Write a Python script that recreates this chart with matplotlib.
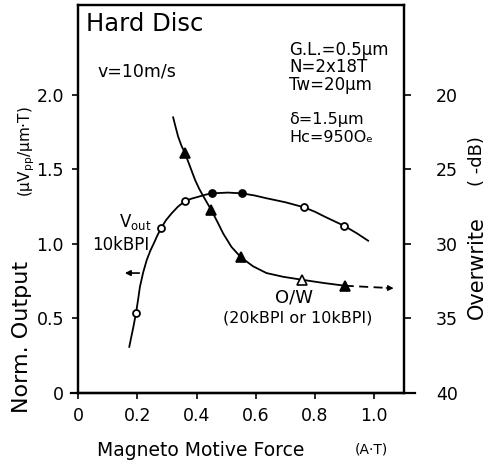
import matplotlib
matplotlib.use("Agg")
import matplotlib.pyplot as plt
from matplotlib.lines import Line2D

# ---------------- data ----------------
# Vout (left axis, Norm. Output)
vout_x = [0.196, 0.280, 0.362, 0.453, 0.552, 0.763, 0.899]
vout_y = [0.539, 1.105, 1.289, 1.340, 1.340, 1.246, 1.121]
vout_filled = [False, False, False, True, True, False, False]
# hand-drawn smooth curve through Vout points
vout_curve_x = [0.173, 0.180, 0.187, 0.196, 0.203, 0.209, 0.220, 0.232, 0.244, 0.256, 0.268,
                0.280, 0.297, 0.316, 0.338, 0.362, 0.384, 0.406, 0.430, 0.453, 0.505, 0.552,
                0.595, 0.636, 0.700, 0.763, 0.800, 0.833, 0.866, 0.899, 0.940, 0.979]
vout_curve_y = [0.310, 0.378, 0.445, 0.539, 0.630, 0.713, 0.810, 0.893, 0.955, 1.005, 1.058,
                1.105, 1.160, 1.206, 1.252, 1.289, 1.305, 1.317, 1.331, 1.340, 1.345, 1.340,
                1.326, 1.307, 1.280, 1.246, 1.216, 1.183, 1.152, 1.121, 1.073, 1.022]

# Overwrite (right axis, -dB)
ow_x = [0.361, 0.449, 0.550, 0.756, 0.900]
ow_y = [23.9, 27.7, 30.9, 32.4, 32.8]
ow_filled = [True, True, True, False, True]
ow_curve_x = [0.321, 0.330, 0.338, 0.349, 0.361, 0.378, 0.395, 0.409, 0.423, 0.436, 0.449,
              0.470, 0.490, 0.518, 0.550, 0.591, 0.636, 0.692, 0.756, 0.830, 0.900]
ow_curve_y = [21.5, 22.2, 22.8, 23.4, 23.9, 24.8, 25.7, 26.3, 26.8, 27.25, 27.7,
              28.5, 29.3, 30.2, 30.9, 31.5, 31.95, 32.2, 32.4, 32.62, 32.8]
ow_ext_x = [0.900, 1.045]
ow_ext_y = [32.8, 32.95]

x_ticks = [0, 0.2, 0.4, 0.6, 0.8, 1.0]
x_ticklabels = ["0", "0.2", "0.4", "0.6", "0.8", "1.0"]
yl_ticks = [0, 0.5, 1.0, 1.5, 2.0]
yl_ticklabels = ["0", "0.5", "1.0", "1.5", "2.0"]
yr_ticks = [20, 25, 30, 35, 40]
yr_ticklabels = ["20", "25", "30", "35", "40"]

# ---------------- figure ----------------
W, H = 493, 461
fig = plt.figure(figsize=(W / 100, H / 100), dpi=100)
plt.rcParams['font.family'] = ['DejaVu Sans']

def fx(px):
    return px / W

def fy(py):
    return 1 - py / H

ax = fig.add_axes([fx(78), fy(393), fx(404) - fx(78), fy(5) - fy(393)])
ax.set_xlim(0, 1.10)
ax.set_ylim(0, 2.604)
ax2 = ax.twinx()
ax2.set_ylim(40, 40 - 26.04)

for a in (ax, ax2):
    for s in a.spines.values():
        s.set_linewidth(1.6)
    a.spines['top'].set_visible(True)

ax.set_xticks(x_ticks)
ax.set_xticklabels(x_ticklabels)
ax.set_yticks(yl_ticks)
ax.set_yticklabels(yl_ticklabels)
ax2.set_yticks(yr_ticks)
ax2.set_yticklabels(yr_ticklabels)
ax.tick_params(axis='both', direction='out', length=4, width=1.2, labelsize=12.5)
ax.tick_params(axis='x', pad=6)
ax.tick_params(axis='y', pad=6)
ax2.tick_params(axis='y', direction='out', length=5, width=1.2, labelsize=12.5, pad=18)

# bottom line extended beyond both spines
ax.add_line(Line2D([-0.02, 1.035], [0, 0], transform=ax.transAxes, color='black',
                   lw=1.6, clip_on=False))

lw = 1.3
# Vout curve and markers
ax.plot(vout_curve_x, vout_curve_y, color='black', lw=lw)
for x, y, f in zip(vout_x, vout_y, vout_filled):
    ax.plot(x, y, marker='o', ms=5, mec='black', mew=1.3,
            mfc='black' if f else 'white', zorder=3)

# O/W curve and markers
ax2.plot(ow_curve_x, ow_curve_y, color='black', lw=lw)
for x, y, f in zip(ow_x, ow_y, ow_filled):
    ax2.plot(x, y, marker='^', ms=6.5, mec='black', mew=1.2,
             mfc='black' if f else 'white', zorder=3)
ax2.plot(ow_ext_x, ow_ext_y, color='black', lw=lw, ls=(0, (5, 3)))
ax2.annotate('', xy=(1.065, 32.97), xytext=(1.04, 32.95),
             arrowprops=dict(arrowstyle='-|>', color='black', lw=1.0,
                             mutation_scale=8, shrinkA=0, shrinkB=0))

# Vout arrow pointing left
ax.annotate('', xy=(0.158, 0.805), xytext=(0.207, 0.805),
            arrowprops=dict(arrowstyle='-|>', color='black', lw=1.2,
                            mutation_scale=8, shrinkA=0, shrinkB=0))

# ---------------- texts ----------------
fig.text(fx(86), fy(24), "Hard Disc", fontsize=17.5, va='center', ha='left')
fig.text(fx(97), fy(71), "v=10m/s", fontsize=12.5, va='center', ha='left')
fig.text(fx(289), fy(50), "G.L.=0.5\u03bcm", fontsize=12, va='center', ha='left')
fig.text(fx(289), fy(67), "N=2x18T", fontsize=12, va='center', ha='left')
fig.text(fx(289), fy(85), "Tw=20\u03bcm", fontsize=12, va='center', ha='left')
fig.text(fx(289), fy(119), "\u03b4=1.5\u03bcm", fontsize=11.5, va='center', ha='left')
fig.text(fx(289), fy(138), "Hc=950O\u2091", fontsize=11.5, va='center', ha='left')

fig.text(fx(119), fy(222), r"V$_\mathrm{out}$", fontsize=12, va='center', ha='left')
fig.text(fx(92), fy(245), "10kBPI", fontsize=12, va='center', ha='left')
fig.text(fx(294), fy(298), "O/W", fontsize=13, va='center', ha='center')
fig.text(fx(298), fy(318), "(20kBPI or 10kBPI)", fontsize=11.5, va='center', ha='center')

fig.text(fx(22), fy(337), "Norm. Output", fontsize=16, rotation=90, va='center', ha='center')
fig.text(fx(27), fy(152), "(\u03bcV$_\\mathrm{pp}$/\u03bcm\u00b7T)", fontsize=11,
         rotation=90, va='center', ha='center')
fig.text(fx(477), fy(268), "Overwrite", fontsize=15, rotation=90, va='center', ha='center')
fig.text(fx(477), fy(161), "( -dB)", fontsize=13, rotation=90, va='center', ha='center')
fig.text(fx(97), fy(450), "Magneto Motive Force", fontsize=13.5, va='center', ha='left')
fig.text(fx(355), fy(449), "(A\u00b7T)", fontsize=10, va='center', ha='left')

fig.savefig("out.png", dpi=100)
